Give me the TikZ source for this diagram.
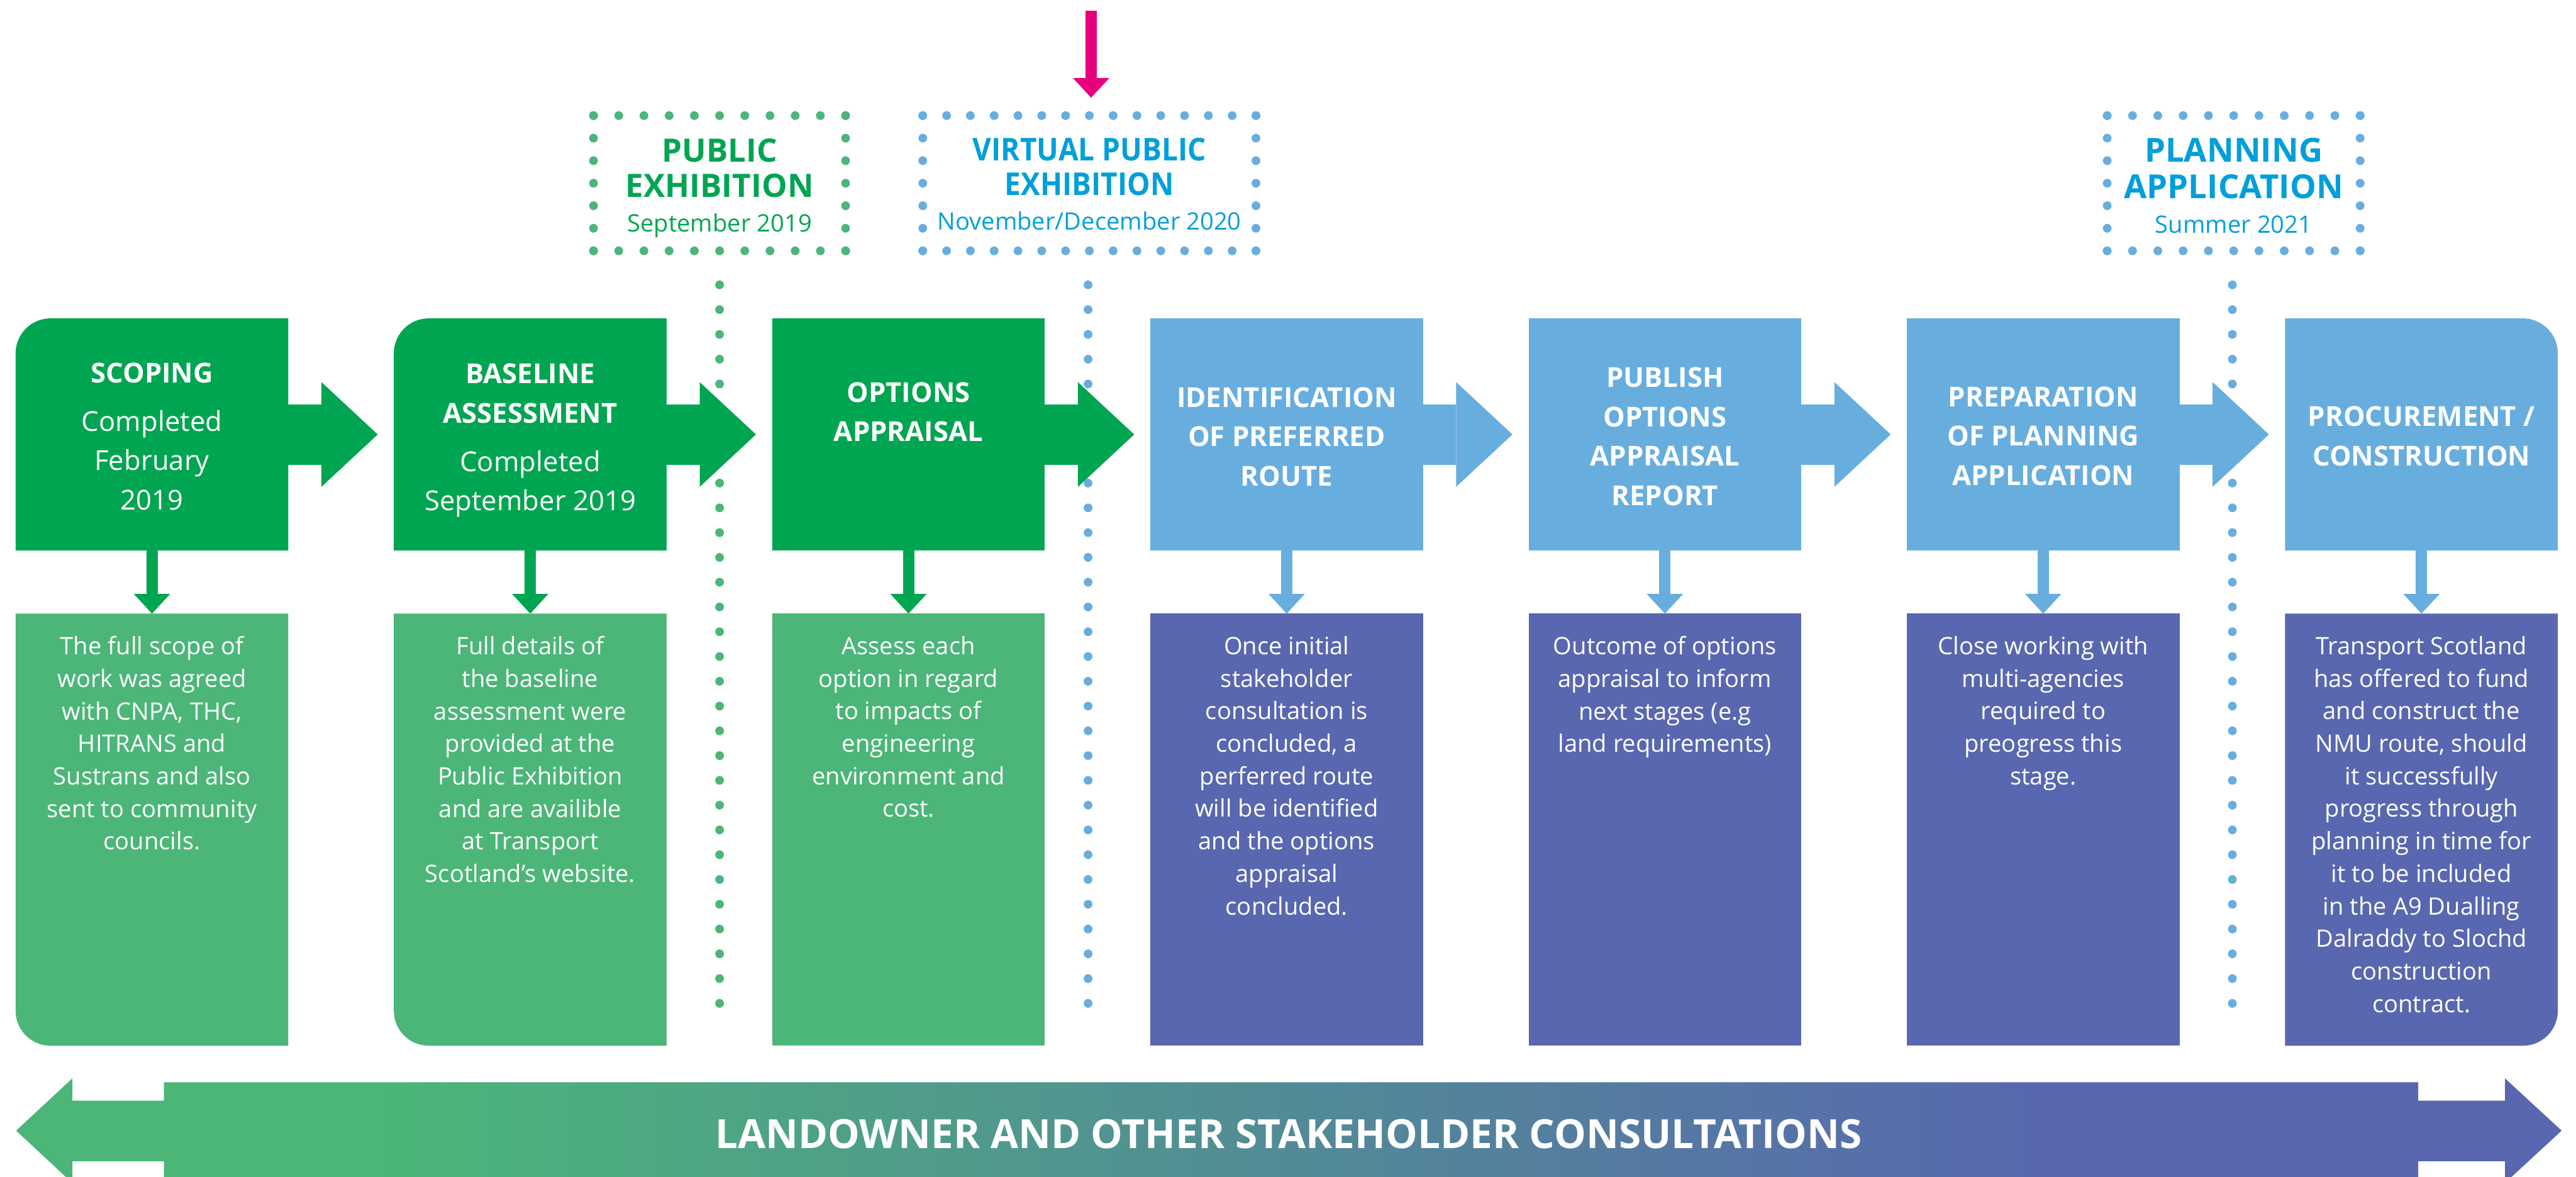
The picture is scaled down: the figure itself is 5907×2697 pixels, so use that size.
\documentclass[tikz,border=0pt]{standalone}
\usepackage{fontspec}
\setmainfont{Open Sans}
\usetikzlibrary{arrows.meta,calc}

\definecolor{stageGreen}{HTML}{00A551}
\definecolor{noteGreen}{HTML}{4BB678}
\definecolor{stageBlue}{HTML}{67AEDF}
\definecolor{noteBlue}{HTML}{5867AF}
\definecolor{mileCyan}{HTML}{009FDA}
\definecolor{markPink}{HTML}{E6007E}

\pgfdeclarehorizontalshading{consultfade}{100bp}{color(0bp)=(noteGreen); color(32bp)=(noteGreen); color(65bp)=(noteBlue); color(100bp)=(noteBlue)}

% dotted frame: x0, x1, horizontal intervals, y0, y1, vertical intervals, colour
\newcommand\dotrect[7]{%
  \foreach \i in {0,...,#3}{
    \fill[#7] ({#1+(#2-#1)*\i/#3},{-#4}) circle[radius=0.1cm];
    \fill[#7] ({#1+(#2-#1)*\i/#3},{-#5}) circle[radius=0.1cm];}
  \foreach \j in {0,...,#6}{
    \fill[#7] ({#1},{-#4-(#5-#4)*\j/#6}) circle[radius=0.1cm];
    \fill[#7] ({#2},{-#4-(#5-#4)*\j/#6}) circle[radius=0.1cm];}
}

\tikzset{
  stagebox/.style={minimum width=6.25cm, minimum height=5.32cm, inner sep=0pt, outer sep=0pt},
  notebox/.style={minimum width=6.25cm, minimum height=9.9cm, inner sep=0pt, outer sep=0pt},
  framebox/.style={inner sep=0pt, outer sep=0pt},
  stagetext/.style={text=white, align=center, inner sep=0pt, anchor=north,
    font=\fontsize{17.9pt}{25.6pt}\selectfont},
  notetext/.style={text=white, align=center, inner sep=0pt, anchor=north,
    font=\fontsize{15.65pt}{21.2pt}\selectfont},
  flow/.style={line width=1.38cm, shorten >=0.37cm,
    -{Triangle[width=2.4cm,length=1.29cm,line width=0pt]}},
  drop/.style={line width=0.26cm,
    -{Triangle[width=0.83cm,length=0.45cm,line width=0pt]}},
  miletitle/.style={anchor=base, inner sep=0pt, font=\fontsize{21pt}{21pt}\selectfont\bfseries},
  milesub/.style={anchor=base, inner sep=0pt, font=\fontsize{15.65pt}{15.65pt}\selectfont},
}

\begin{document}
\begin{tikzpicture}[x=0.01cm, y=0.01cm]
\useasboundingbox (0,0) rectangle (5907,-2697);

% ---------- milestone frames ----------
\node[framebox, minimum width=5.78cm, minimum height=3.10cm] (pubex) at (1650,-420) {};
\node[framebox, minimum width=7.64cm, minimum height=3.10cm] (virtex) at (2498,-420) {};
\node[framebox, minimum width=5.80cm, minimum height=3.10cm] (planapp) at (5122,-420) {};

\dotrect{1361}{1939}{10}{265}{575}{6}{noteGreen}
\dotrect{2116}{2880}{14}{265}{575}{6}{stageBlue}
\dotrect{4832}{5412}{10}{265}{575}{6}{stageBlue}

% dotted drop lines below the milestones
\coordinate (publine) at (1650,-653);
\coordinate (virtline) at (2495,-653);
\coordinate (planline) at (5119,-653);
\foreach \k in {0,...,29}{
  \fill[noteGreen] ($(publine)+(0,{-\k*56.8})$) circle[radius=0.1cm];
  \fill[stageBlue] ($(virtline)+(0,{-\k*56.8})$) circle[radius=0.1cm];
  \fill[stageBlue] ($(planline)+(0,{-\k*56.8})$) circle[radius=0.1cm];
}

% ---------- stage boxes ----------
\node[stagebox] (t1) at (348.5,-996) {};
\node[stagebox] (t2) at (1215.8,-996) {};
\node[stagebox] (t3) at (2083.2,-996) {};
\node[stagebox] (t4) at (2950.5,-996) {};
\node[stagebox] (t5) at (3817.8,-996) {};
\node[stagebox] (t6) at (4685.2,-996) {};
\node[stagebox] (t7) at (5552.5,-996) {};

\node[notebox] (b1) at (348.5,-1902) {};
\node[notebox] (b2) at (1215.8,-1902) {};
\node[notebox] (b3) at (2083.2,-1902) {};
\node[notebox] (b4) at (2950.5,-1902) {};
\node[notebox] (b5) at (3817.8,-1902) {};
\node[notebox] (b6) at (4685.2,-1902) {};
\node[notebox] (b7) at (5552.5,-1902) {};

\fill[stageGreen] (t1.south west) -- ([yshift=-0.8cm]t1.north west) arc[start angle=180,end angle=90,radius=0.8cm] -- (t1.north east) -- (t1.south east) -- cycle;
\fill[stageGreen] (t2.south west) -- ([yshift=-0.8cm]t2.north west) arc[start angle=180,end angle=90,radius=0.8cm] -- (t2.north east) -- (t2.south east) -- cycle;
\fill[stageGreen] (t3.south west) rectangle (t3.north east);
\fill[stageBlue] (t4.south west) rectangle (t4.north east);
\fill[stageBlue] (t5.south west) rectangle (t5.north east);
\fill[stageBlue] (t6.south west) rectangle (t6.north east);
\fill[stageBlue] (t7.south west) -- (t7.north west) -- ([xshift=-0.8cm]t7.north east) arc[start angle=90,end angle=0,radius=0.8cm] -- (t7.south east) -- cycle;

\fill[noteGreen] (b1.north west) -- ([yshift=0.8cm]b1.south west) arc[start angle=180,end angle=270,radius=0.8cm] -- (b1.south east) -- (b1.north east) -- cycle;
\fill[noteGreen] (b2.north west) -- ([yshift=0.8cm]b2.south west) arc[start angle=180,end angle=270,radius=0.8cm] -- (b2.south east) -- (b2.north east) -- cycle;
\fill[noteGreen] (b3.south west) rectangle (b3.north east);
\fill[noteBlue] (b4.south west) rectangle (b4.north east);
\fill[noteBlue] (b5.south west) rectangle (b5.north east);
\fill[noteBlue] (b6.south west) rectangle (b6.north east);
\fill[noteBlue] (b7.north west) -- (b7.south west) -- ([xshift=-0.8cm]b7.south east) arc[start angle=270,end angle=360,radius=0.8cm] -- (b7.north east) -- cycle;

% ---------- flow arrows ----------
\draw[flow, stageGreen] (t1.east) -- (t2.west);
\draw[flow, stageGreen] (t2.east) -- (t3.west);
\draw[flow, stageGreen] (t3.east) -- (t4.west);
\draw[flow, stageBlue] (t4.east) -- (t5.west);
\draw[flow, stageBlue] (t5.east) -- (t6.west);
\draw[flow, stageBlue] (t6.east) -- (t7.west);

\draw[drop, stageGreen] (t1.south) -- (b1.north);
\draw[drop, stageGreen] (t2.south) -- (b2.north);
\draw[drop, stageGreen] (t3.south) -- (b3.north);
\draw[drop, stageBlue] (t4.south) -- (b4.north);
\draw[drop, stageBlue] (t5.south) -- (b5.north);
\draw[drop, stageBlue] (t6.south) -- (b6.north);
\draw[drop, stageBlue] (t7.south) -- (b7.north);

% ---------- stage titles ----------
\node[stagetext] (t1txt) at (348.5,-831) {\textbf{SCOPING}\\[0.21cm]Completed\\February\\2019};
\node[stagetext] (t2txt) at (1215.8,-833) {\textbf{BASELINE}\\\textbf{ASSESSMENT}\\[0.21cm]Completed\\September 2019};
\node[stagetext, font=\fontsize{17.9pt}{25.6pt}\selectfont\bfseries] (t3txt) at (2083.2,-876) {OPTIONS\\APPRAISAL};
\node[stagetext, font=\fontsize{17.9pt}{25.6pt}\selectfont\bfseries] (t4txt) at (2950.5,-887) {IDENTIFICATION\\OF PREFERRED\\ROUTE};
\node[stagetext, font=\fontsize{17.9pt}{25.6pt}\selectfont\bfseries] (t5txt) at (3817.8,-842) {PUBLISH\\OPTIONS\\APPRAISAL\\REPORT};
\node[stagetext, font=\fontsize{17.9pt}{25.6pt}\selectfont\bfseries] (t6txt) at (4685.2,-886) {PREPARATION\\OF PLANNING\\APPLICATION};
\node[stagetext, font=\fontsize{17.9pt}{25.6pt}\selectfont\bfseries] (t7txt) at (5552.5,-931) {PROCUREMENT /\\CONSTRUCTION};

% ---------- stage notes ----------
\node[notetext] (b1txt) at (348.5,-1458) {The full scope of\\work was agreed\\with CNPA, THC,\\HITRANS and\\Sustrans and also\\sent to community\\councils.};
\node[notetext] (b2txt) at (1215.8,-1458) {Full details of\\the baseline\\assessment were\\provided at the\\Public Exhibition\\and are availible\\at Transport\\Scotland’s website.};
\node[notetext] (b3txt) at (2083.2,-1458) {Assess each\\option in regard\\to impacts of\\engineering\\environment and\\cost.};
\node[notetext] (b4txt) at (2950.5,-1458) {Once initial\\stakeholder\\consultation is\\concluded, a\\perferred route\\will be identified\\and the options\\appraisal\\concluded.};
\node[notetext] (b5txt) at (3817.8,-1458) {Outcome of options\\appraisal to inform\\next stages (e.g\\land requirements)};
\node[notetext] (b6txt) at (4685.2,-1458) {Close working with\\multi-agencies\\required to\\preogress this\\stage.};
\node[notetext] (b7txt) at (5552.5,-1458) {Transport Scotland\\has offered to fund\\and construct the\\NMU route, should\\it successfully\\progress through\\planning in time for\\it to be included\\in the A9 Dualling\\Dalraddy to Slochd\\construction\\contract.};

% ---------- milestone labels ----------
\node[miletitle, text=stageGreen] (pub1) at (1650,-371) {PUBLIC};
\node[miletitle, text=stageGreen] (pub2) at (1650,-452) {EXHIBITION};
\node[milesub, text=stageGreen] (pub3) at (1650,-531) {September 2019};

\node[miletitle, text=mileCyan, font=\fontsize{20.5pt}{20.5pt}\selectfont\bfseries] (virt1) at (2498,-369) {\scalebox{0.92}[1]{VIRTUAL PUBLIC}};
\node[miletitle, text=mileCyan, font=\fontsize{20.5pt}{20.5pt}\selectfont\bfseries] (virt2) at (2498,-448) {\scalebox{0.92}[1]{EXHIBITION}};
\node[milesub, text=mileCyan] (virt3) at (2498,-527) {November/December 2020};

\node[miletitle, text=mileCyan, font=\fontsize{21.6pt}{21.6pt}\selectfont\bfseries] (plan1) at (5122,-372) {PLANNING};
\node[miletitle, text=mileCyan, font=\fontsize{21.6pt}{21.6pt}\selectfont\bfseries] (plan2) at (5122,-455) {APPLICATION};
\node[milesub, text=mileCyan] (plan3) at (5122,-534) {Summer 2021};

% ---------- current-stage marker ----------
\coordinate (markfrom) at (2502,-25);
\coordinate (markto) at (2502,-224);
\draw[drop, markPink] (markfrom) -- (markto);

% ---------- consultation band ----------
\begin{scope}
\clip (0,0) rectangle (5907,-2697);
\shade[shading=consultfade]
  (37,-2592) -- (166,-2472) -- (166,-2523) -- (376,-2523) -- (376,-2481)
  -- (5545,-2481) -- (5545,-2523) -- (5744,-2523) -- (5744,-2472) -- (5874,-2592)
  -- (5744,-2712) -- (5744,-2662) -- (5545,-2662) -- (5545,-2780)
  -- (376,-2780) -- (376,-2662) -- (166,-2662) -- (166,-2712) -- cycle;
\end{scope}
\node[inner sep=0pt, text=white, font=\fontsize{26.2pt}{26.2pt}\selectfont\bfseries] (consult) at (2955,-2599) {LANDOWNER AND OTHER STAKEHOLDER CONSULTATIONS};

\end{tikzpicture}
\end{document}
